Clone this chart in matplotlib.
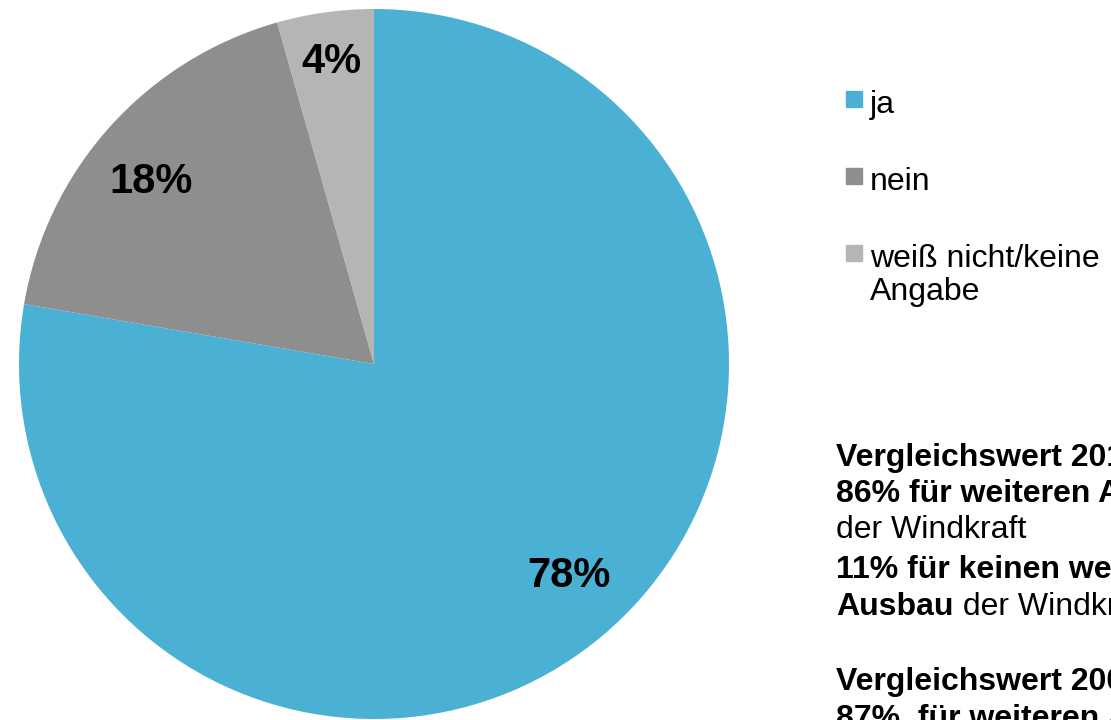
import matplotlib.pyplot as plt
from matplotlib.patches import Rectangle

# data
labels = ['ja', 'nein', 'weiß nicht/keine\nAngabe']
values = [77.7, 17.9, 4.4]
value_texts = ['78%', '18%', '4%']
colors = ['#4BB1D4', '#8E8E8E', '#B5B5B5']

plt.rcParams['font.family'] = ['Liberation Sans', 'DejaVu Sans']

W, H = 1111, 720
fig = plt.figure(figsize=(W / 100, H / 100), dpi=100)
ax = fig.add_axes([0, 0, 1, 1])

def py(y):
    # pixel row from top -> data y
    return H - y

# pie
wedges, _ = ax.pie(values, colors=colors, startangle=90, counterclock=False,
                   center=(374, py(364)), radius=355, frame=True)
ax.set_xlim(0, W)
ax.set_ylim(0, H)
ax.axis('off')

# value labels
label_pos = [(569, 576), (151, 182), (331, 62)]
for (x, y), t in zip(label_pos, value_texts):
    ax.text(x, py(y), t, fontsize=30, fontweight='bold', ha='center', va='center')

# legend (drawn by hand)
leg_y = [113, 190, 267]
for yb, lab, c in zip(leg_y, labels, colors):
    ax.add_patch(Rectangle((846, py(yb - 6)), 16, 16, color=c))
    for k, part in enumerate(lab.split('\n')):
        ax.text(870, py(yb + 33 * k), part, fontsize=23, va='baseline')

# side note (runs off the right edge)
lines = [
    [('Vergleichswert 2011:', 'bold')],
    [('86% für weiteren Ausbau', 'bold')],
    [('der Windkraft', 'normal')],
    [('11% für keinen weiteren', 'bold')],
    [('Ausbau', 'bold'), (' der Windkraft', 'normal')],
    None,
    [('Vergleichswert 2009:', 'bold')],
    [('87%  für weiteren Ausbau', 'bold')],
]
base = [466, 502, 538, 578, 615, None, 690, 727]
for parts, yb in zip(lines, base):
    if parts is None:
        continue
    prev = None
    for txt, wt in parts:
        if prev is None:
            prev = ax.text(836, py(yb), txt, fontsize=23, fontweight=wt,
                           va='baseline', clip_on=False)
        else:
            prev = ax.annotate(txt, xy=(1, 0), xycoords=prev, fontsize=23,
                               fontweight=wt, va='bottom', ha='left')

fig.savefig('out.png', dpi=100)
